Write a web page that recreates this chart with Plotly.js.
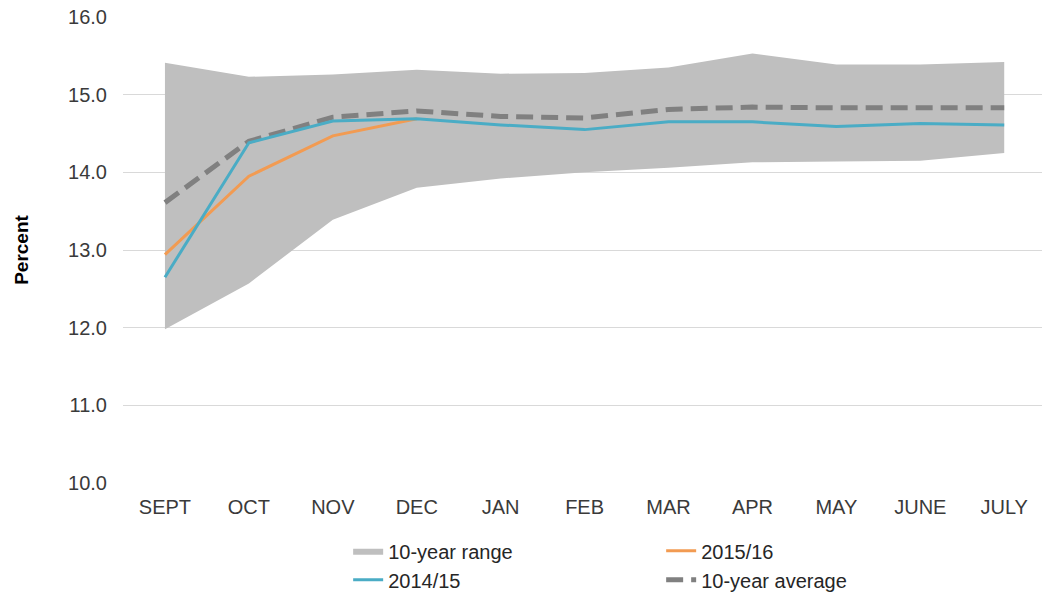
<!DOCTYPE html>
<html>
<head>
<meta charset="utf-8">
<script src="https://cdn.plot.ly/plotly-3.0.1.min.js"></script>
<style>html,body{margin:0;padding:0;background:#fff;}#chart{width:1042px;height:595px;}</style>
</head>
<body>
<div id="chart"></div>
<script>
const months = ["SEPT","OCT","NOV","DEC","JAN","FEB","MAR","APR","MAY","JUNE","JULY"];
const rangeLow = [11.98,12.57,13.39,13.80,13.92,14.00,14.06,14.13,14.14,14.15,14.25];
const rangeHigh = [15.41,15.23,15.26,15.32,15.27,15.28,15.35,15.53,15.39,15.39,15.42];
const avg10 = [13.61,14.40,14.71,14.79,14.72,14.70,14.81,14.84,14.83,14.83,14.83];
const y2014 = [12.65,14.38,14.66,14.69,14.61,14.55,14.65,14.65,14.59,14.63,14.61];
const y2015 = [12.94,13.95,14.47,14.69];

const traces = [
  {x: months, y: rangeLow, type: 'scatter', mode: 'lines', line: {width: 0, color: '#bfbfbf'}, showlegend: false, hoverinfo: 'skip'},
  {x: months, y: rangeHigh, type: 'scatter', mode: 'lines', fill: 'tonexty', fillcolor: '#bfbfbf', line: {width: 0, color: '#bfbfbf'}, name: '10-year range', legendrank: 1},
  {x: months, y: avg10, type: 'scatter', mode: 'lines', line: {color: '#808080', width: 5, dash: '17px,8px'}, name: '10-year average', legendrank: 4},
  {x: months.slice(0, y2015.length), y: y2015, type: 'scatter', mode: 'lines', line: {color: '#f29b52', width: 3}, name: '2015/16', legendrank: 2},
  {x: months, y: y2014, type: 'scatter', mode: 'lines', line: {color: '#4aacc5', width: 3}, name: '2014/15', legendrank: 3}
];

const layout = {
  width: 1042, height: 595,
  margin: {l: 123, r: 0, t: 17, b: 112},
  paper_bgcolor: '#fff', plot_bgcolor: '#fff',
  font: {family: 'Liberation Sans, Arial, sans-serif', size: 20, color: '#404040'},
  xaxis: {
    type: 'category', range: [-0.5, 10.45], showgrid: false, zeroline: false,
    showline: false, ticks: '', ticklabelstandoff: 10,
    tickfont: {size: 20, color: '#3a3a3a'}
  },
  yaxis: {
    range: [10, 16], dtick: 1, tick0: 10, tickformat: '.1f',
    showgrid: true, gridcolor: '#d9d9d9', gridwidth: 1, zeroline: false,
    showline: false, ticks: '', ticklabelstandoff: 15,
    tickfont: {size: 20, color: '#3a3a3a'},
    title: {text: '<b>Percent</b>', font: {size: 19, color: '#000'}, standoff: 34}
  },
  legend: {
    orientation: 'h', x: 0.245, xanchor: 'left', yref: 'container', y: 0.107, yanchor: 'top',
    entrywidth: 268, font: {size: 20, color: '#262626'}, traceorder: 'normal'
  },
  showlegend: true
};

Plotly.newPlot('chart', traces, layout, {displayModeBar: false, staticPlot: true});
</script>
</body>
</html>
